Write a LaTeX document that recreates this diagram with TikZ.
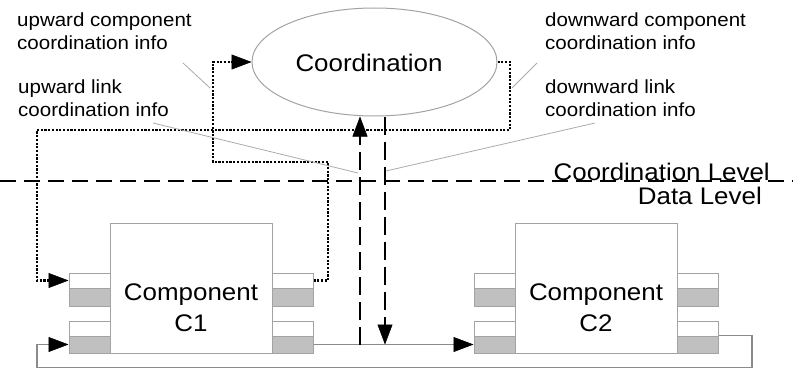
\documentclass[tikz,border=0pt]{standalone}
\usepackage{fontspec}
\setmainfont{Liberation Sans}[FakeStretch=1.08]
\usetikzlibrary{arrows.meta,shapes.geometric}

\definecolor{edgegray}{HTML}{A3A3A3}
\definecolor{portgray}{HTML}{C0C0C0}
\definecolor{wiregray}{HTML}{8A8A8A}
\definecolor{leadergray}{HTML}{ABABAB}

\begin{document}
\begin{tikzpicture}[x=1pt,y=-1pt,
  >={Triangle[length=20pt,width=15pt,color=black,line width=0.5pt]},
  lbl/.style={font=\fontsize{19}{23.5}\selectfont, align=left, inner sep=0, anchor=base west},
  big/.style={font=\fontsize{24}{31}\selectfont, inner sep=0},
  compbox/.style={draw=edgegray, line width=1pt, fill=white, minimum width=162pt, minimum height=130pt, inner sep=0},
  portw/.style={draw=edgegray, line width=1pt, fill=white, minimum width=41pt, minimum height=15pt, inner sep=0},
  portg/.style={draw=edgegray, line width=1pt, fill=portgray, minimum width=41pt, minimum height=17pt, inner sep=0},
  wire/.style={draw=wiregray, line width=1.2pt},
  dots/.style={draw=black, line width=2.2pt, dash pattern=on 2.2pt off 1.5pt},
  ctrl/.style={draw=black, line width=1.8pt, dash pattern=on 18pt off 7pt},
  levelline/.style={draw=black, line width=2.2pt, dash pattern=on 16pt off 8pt},
  leader/.style={draw=leadergray, line width=0.8pt}
]
\useasboundingbox (0,0) rectangle (793,369);

% level separator
\coordinate (lvlW) at (0,181);
\coordinate (lvlE) at (793,181);
\draw[levelline] (lvlW) -- (lvlE);
\node[big, anchor=base east] (lvlC) at (770,180) {Coordination Level};
\node[big, anchor=base east] (lvlD) at (762,204) {Data Level};

% coordination entity
\node[ellipse, draw=edgegray, line width=1pt, minimum width=245pt, minimum height=108pt, inner sep=0] (coord) at (374.5,62) {};
\node[big, anchor=base] (coordtext) at (369,71) {Coordination};

% components with their ports
\foreach \c/\cx in {c1/191, c2/596} {
  \node[compbox] (\c) at (\cx,288) {};
  \foreach \s/\dx in {w/-1, e/1} {
    \node[portw, minimum height=15pt] (\c-\s-1w) at ({\cx+\dx*101.5},280.5) {};
    \node[portg, minimum height=18pt] (\c-\s-1g) at ({\cx+\dx*101.5},297) {};
    \node[portw, minimum height=15pt] (\c-\s-2w) at ({\cx+\dx*101.5},328.5) {};
    \node[portg, minimum height=17pt] (\c-\s-2g) at ({\cx+\dx*101.5},344.5) {};
  }
}
\node[big, align=center] (c1text) at (191,307.5) {Component\\C1};
\node[big, align=center] (c2text) at (596,307.5) {Component\\C2};

% data flow
\draw[wire, ->] (c1-e-2g.east) -- (c2-w-2g.west);
\coordinate (fbR) at (752,367.5);
\coordinate (fbL) at (37,367.5);
\draw[wire, ->] (c2-e-2g.north east) -| (fbR) -- (fbL) |- (c1-w-2g.west);

% component coordination info
\coordinate (dnR) at (510,130);
\coordinate (dnL) at (37,130);
\draw[dots, ->] (coord.east) -| (dnR) -- (dnL) |- (c1-w-1w.west);
\coordinate (upR) at (328,162);
\coordinate (upL) at (213,162);
\draw[dots, ->] (c1-e-1w.east) -| (upR) -- (upL) |- (coord.west);

% link coordination info
\coordinate (upfoot) at (360,344.5);
\coordinate (dnfoot) at (385,344.5);
\draw[ctrl, ->] (upfoot) -- (upfoot |- coord.south);
\draw[ctrl, ->] (dnfoot |- coord.south) -- (dnfoot);

% labels (anchored at the baseline of their last line) and their leaders
\node[lbl] (lblUC) at (17,50) {upward component\\coordination info};
\node[lbl] (lblUL) at (18,117) {upward link\\coordination info};
\node[lbl] (lblDC) at (545,50) {downward component\\coordination info};
\node[lbl] (lblDL) at (545,117) {downward link\\coordination info};

\coordinate (ldUC1) at (183,63);  \coordinate (ldUC2) at (210,88);
\coordinate (ldUL1) at (153,123); \coordinate (ldUL2) at (358,173);
\coordinate (ldDC1) at (537,63);  \coordinate (ldDC2) at (512,88);
\coordinate (ldDL1) at (595,123); \coordinate (ldDL2) at (386,171);
\draw[leader] (ldUC1) -- (ldUC2);
\draw[leader] (ldUL1) -- (ldUL2);
\draw[leader] (ldDC1) -- (ldDC2);
\draw[leader] (ldDL1) -- (ldDL2);
\end{tikzpicture}
\end{document}
